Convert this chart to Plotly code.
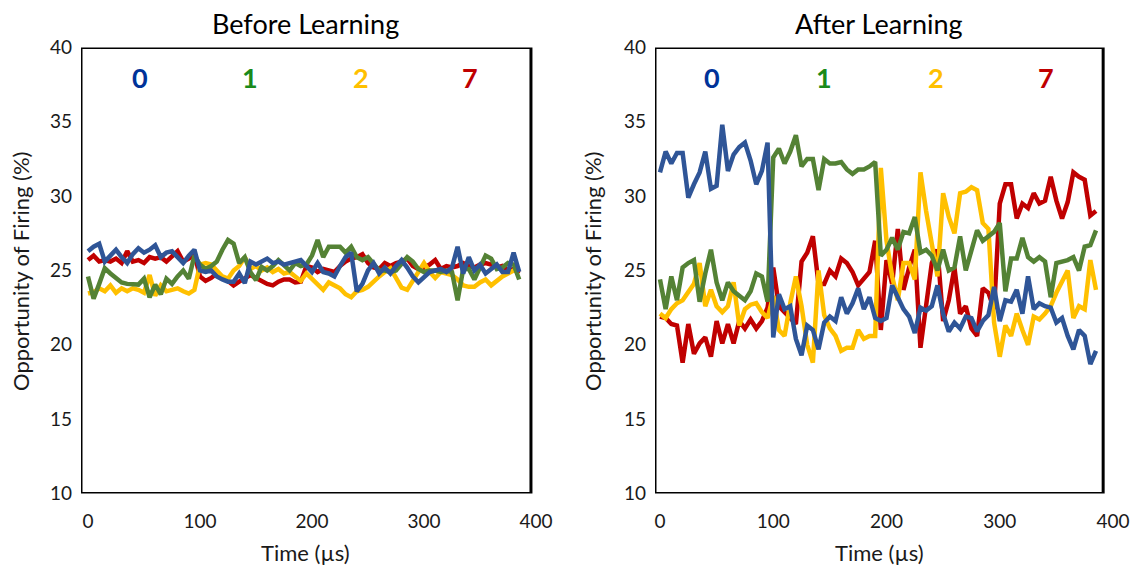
import plotly.graph_objects as go

# Sample times (µs)
time_us = list(range(0, 390, 5))

# Before learning: firing opportunity (%) per digit class
before_0 = [26.3, 26.6, 26.8, 25.6, 26.0, 26.4, 25.9, 25.5, 26.1, 26.5,
            26.2, 26.4, 26.7, 25.9, 26.2, 26.3, 25.9, 25.5, 26.0, 26.4,
            25.0, 24.9, 25.0, 24.6, 24.4, 24.25, 24.25, 24.8, 24.15, 25.6,
            25.4, 25.6, 25.8, 25.5, 25.6, 25.4, 25.5, 25.6, 25.7, 25.3,
            24.9, 25.5, 24.9, 24.8, 24.6, 25.3, 25.9, 26.2, 23.6, 24.1,
            25.0, 25.5, 24.8, 25.2, 24.8, 25.3, 25.7, 25.2, 24.6, 24.2,
            24.6, 24.9, 25.0, 25.1, 24.9, 25.2, 26.6, 24.8, 25.9, 25.0,
            25.4, 24.8, 25.1, 25.4, 24.9, 24.9, 26.2, 24.9]
before_1 = [24.6, 23.1, 24.1, 25.15, 24.8, 24.5, 24.2, 24.1, 24.1, 24.05,
            24.45, 23.2, 24.05, 23.4, 24.45, 24.1, 24.6, 25.0, 24.45, 26.0,
            25.4, 25.1, 25.3, 25.6, 26.4, 27.05, 26.8, 25.5, 25.9, 24.9,
            24.35, 25.25, 25.0, 25.3, 25.7, 25.3, 25.0, 25.5, 25.3, 25.4,
            26.0, 27.05, 25.9, 26.6, 26.6, 26.6, 26.2, 26.6, 25.9, 25.7,
            25.9, 25.5, 25.0, 25.0, 24.9, 25.0, 25.4, 25.9, 25.6, 25.1,
            24.9, 25.0, 25.0, 24.9, 25.0, 24.9, 23.0, 25.1, 25.1, 24.4,
            25.2, 26.0, 25.8, 25.1, 25.2, 25.5, 25.4, 24.4]
before_2 = [23.45, 23.55, 23.8, 23.6, 24.0, 23.5, 23.8, 23.6, 23.8, 23.7,
            23.5, 24.7, 23.3, 24.0, 23.6, 23.7, 23.8, 23.6, 23.45, 23.7,
            25.4, 25.5, 25.4, 25.0, 24.6, 24.45, 25.0, 25.3, 25.9, 25.1,
            25.3, 25.0, 25.2, 24.9, 25.1, 24.8, 24.9, 24.6, 24.3, 24.8,
            24.4, 24.0, 23.7, 24.2, 24.0, 23.8, 23.4, 23.2, 23.6, 23.7,
            23.9, 24.3, 24.6, 24.9, 25.15, 24.5, 23.85, 23.7, 24.3, 25.0,
            25.5, 24.9, 24.5, 24.9, 24.8, 24.7, 24.4, 24.0, 23.9, 23.9,
            24.2, 24.4, 24.0, 24.3, 24.6, 24.8, 25.0, 25.2]
before_7 = [25.7, 26.0, 25.6, 25.7, 25.6, 25.8, 25.5, 26.3, 25.6, 25.7,
            25.5, 25.9, 25.8, 25.9, 25.6, 26.0, 26.3, 25.6, 25.8, 26.1,
            24.6, 24.3, 24.5, 24.8, 24.5, 24.3, 24.0, 24.25, 24.5, 24.7,
            24.5, 24.3, 24.1, 24.0, 24.25, 24.4, 24.4, 24.2, 24.25, 25.3,
            25.2, 24.9, 25.1, 25.0, 24.9, 25.3, 25.6, 25.8, 25.9, 26.1,
            25.5, 25.2, 25.1, 25.5, 25.3, 25.5, 25.6, 25.8, 25.3, 25.1,
            25.2, 25.4, 25.7, 25.1, 25.3, 25.2, 25.3, 25.5, 25.3, 25.2,
            25.4, 25.5, 25.4, 25.2, 25.3, 25.0, 25.1, 24.8]

# After learning: firing opportunity (%) per digit class
after_0 = [31.6, 33.0, 32.2, 32.9, 32.9, 29.9, 30.8, 31.6, 33.0, 30.5,
           30.7, 34.8, 31.7, 32.8, 33.3, 33.6, 32.4, 30.8, 31.7, 33.6,
           20.5, 23.4, 22.4, 22.6, 20.4, 19.3, 21.3, 21.0, 19.7, 21.5,
           21.9, 21.6, 23.2, 22.1, 22.8, 23.8, 22.4, 23.2, 21.8, 21.6,
           21.8, 24.0, 23.2, 22.4, 21.9, 20.8, 22.5, 22.3, 22.6, 24.0,
           22.1, 20.9, 21.5, 21.1, 21.9, 21.8, 20.9, 21.6, 22.0, 23.9,
           21.6, 23.0, 22.9, 23.7, 22.1, 24.6, 22.4, 22.8, 22.6, 22.5,
           21.5, 21.8, 20.6, 19.7, 21.0, 20.6, 18.7, 19.6]
after_1 = [24.4, 22.4, 24.6, 23.0, 25.2, 25.5, 25.7, 22.9, 24.8, 26.4,
           24.2, 23.0, 24.2, 23.6, 23.3, 23.0, 23.6, 24.8, 24.6, 22.9,
           32.6, 33.2, 32.2, 33.0, 34.1, 32.0, 32.5, 32.5, 30.4, 32.5,
           32.2, 32.2, 32.3, 31.8, 31.5, 31.8, 31.8, 32.0, 32.3, 26.0,
           26.4, 27.2, 26.4, 27.6, 27.5, 28.6, 26.2, 26.4, 26.0, 25.0,
           26.4, 25.0, 25.2, 27.3, 25.0, 26.4, 27.7, 27.0, 27.3, 27.6,
           28.2, 23.6, 25.8, 25.8, 27.2, 25.9, 25.6, 25.9, 25.6, 23.2,
           25.5, 25.6, 25.7, 25.9, 25.0, 26.6, 26.7, 27.7]
after_2 = [22.1, 21.8, 22.4, 22.8, 23.0, 23.5, 24.1, 25.5, 22.6, 23.7,
           22.6, 22.2, 22.6, 24.2, 21.3, 22.4, 22.7, 22.8, 22.2, 21.8,
           23.3, 21.0, 20.6, 22.8, 24.6, 22.6, 20.0, 18.8, 25.0, 22.0,
           21.1, 20.6, 19.6, 19.8, 19.8, 21.0, 20.4, 20.6, 20.6, 31.9,
           27.0, 24.6, 23.0, 25.5, 25.5, 24.4, 31.6, 29.0, 27.0, 24.6,
           30.2, 28.6, 27.5, 30.2, 30.3, 30.6, 30.4, 28.2, 27.8, 21.5,
           19.2, 21.3, 20.6, 22.1, 21.0, 20.0, 21.9, 21.7, 22.1, 22.6,
           23.5, 24.2, 25.0, 21.8, 22.6, 22.4, 25.7, 23.7]
after_7 = [21.9, 21.8, 21.4, 21.3, 18.8, 21.4, 19.4, 20.1, 20.5, 19.2,
           21.6, 20.1, 21.4, 20.1, 21.6, 21.1, 21.7, 21.1, 21.6, 22.5,
           25.2, 22.6, 22.2, 21.8, 21.4, 25.6, 26.2, 27.3, 24.1, 24.1,
           25.0, 24.6, 25.8, 25.5, 24.9, 24.0, 24.4, 24.9, 27.0, 21.0,
           25.7, 24.1, 27.8, 23.7, 25.2, 26.4, 19.8, 22.6, 25.5, 26.4,
           21.6, 23.0, 25.2, 22.1, 22.6, 21.1, 20.6, 23.8, 23.5, 22.4,
           29.5, 30.8, 30.8, 28.5, 29.5, 29.2, 30.2, 29.5, 29.7, 31.3,
           29.7, 28.5, 29.6, 31.6, 31.3, 31.1, 28.7, 29.0]

digit_labels = ["0", "1", "2", "7"]
digit_label_x = [46, 145, 244, 341]
line_colors = {"0": "#2F5597", "1": "#548235", "2": "#FFC000", "7": "#C00000"}
text_colors = {"0": "#003399", "1": "#1A8A1A", "2": "#FFC000", "7": "#C00000"}

panel_titles = ["Before Learning", "After Learning"]
x_title = "Time (µs)"
y_title = "Opportunity of Firing (%)"
x_tick_vals = [0, 100, 200, 300, 400]
y_tick_vals = [10, 15, 20, 25, 30, 35, 40]

FONT = "Lato, 'Open Sans', sans-serif"
W, H = 1136, 569

panels = [
    {"series": {"0": before_0, "1": before_1, "2": before_2, "7": before_7},
     "xdomain": [81 / W, 536 / W], "xrange": [-6.25, 400], "xbox": 395.5,
     "ytitle_px": 20},
    {"series": {"0": after_0, "1": after_1, "2": after_2, "7": after_7},
     "xdomain": [655 / W, 1113 / W], "xrange": [-4.4, 400], "xbox": 391.3,
     "ytitle_px": 592},
]
ydomain = [1 - 493.5 / H, 1 - 47.5 / H]

fig = go.Figure()
draw_order = ["7", "2", "1", "0"]

for p, panel in enumerate(panels):
    xa = "x" if p == 0 else "x2"
    ya = "y" if p == 0 else "y2"
    for d in draw_order:
        fig.add_trace(go.Scatter(
            x=time_us, y=panel["series"][d], mode="lines",
            line=dict(color=line_colors[d], width=4.5),
            xaxis=xa, yaxis=ya, showlegend=False, hoverinfo="skip"))

    axis_common = dict(showgrid=False, zeroline=False, showline=False,
                       ticks="", automargin=False,
                       tickfont=dict(family=FONT, size=19, color="#1a1a1a"))
    fig.update_layout(**{
        ("xaxis" if p == 0 else "xaxis2"): dict(
            domain=panel["xdomain"], range=panel["xrange"], anchor=ya,
            tickvals=x_tick_vals, ticklabelstandoff=14, **axis_common),
        ("yaxis" if p == 0 else "yaxis2"): dict(
            domain=ydomain, range=[10, 40], anchor=xa,
            tickvals=y_tick_vals, ticklabelstandoff=8, **axis_common),
    })

    # plot frame
    fig.add_shape(type="rect", xref=xa, yref=ya,
                  x0=panel["xrange"][0], x1=panel["xbox"], y0=10, y1=40,
                  line=dict(color="black", width=3), layer="above")

    xmid = (panel["xrange"][0] + panel["xbox"]) / 2
    centered = dict(showarrow=False, xanchor="center", yanchor="middle")

    # panel title
    fig.add_annotation(x=xmid, xref=xa, y=1 - 23 / H, yref="paper",
                       text=panel_titles[p], **centered,
                       font=dict(family=FONT, size=27, color="black"))

    # axis titles
    fig.add_annotation(x=xmid, xref=xa, y=1 - 552 / H, yref="paper",
                       text=x_title, **centered,
                       font=dict(family=FONT, size=22, color="#1a1a1a"))
    fig.add_annotation(x=panel["ytitle_px"] / W, xref="paper", y=1 - 272 / H, yref="paper",
                       text=y_title, textangle=-90, **centered,
                       font=dict(family=FONT, size=22, color="#1a1a1a"))

    # digit class labels
    for d, lx in zip(digit_labels, digit_label_x):
        fig.add_annotation(x=lx, xref=xa, y=38.0, yref=ya, text=f"<b>{d}</b>",
                           **centered,
                           font=dict(family=FONT, size=27, color=text_colors[d]))

fig.update_layout(
    width=W, height=H,
    margin=dict(l=0, r=0, t=0, b=0),
    paper_bgcolor="white", plot_bgcolor="white",
    font=dict(family=FONT),
)

fig.write_html("out.html")
